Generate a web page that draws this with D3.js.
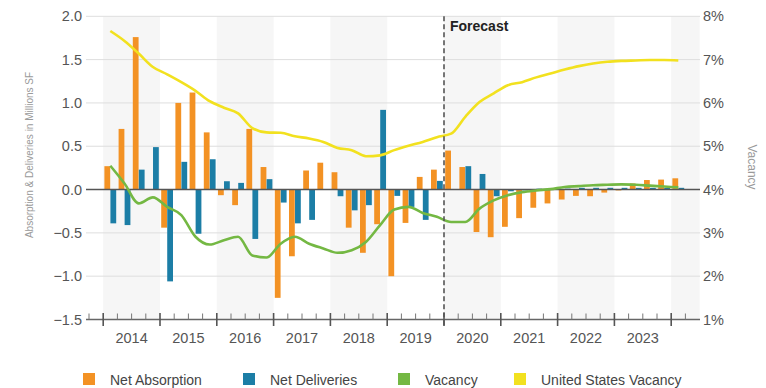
<!DOCTYPE html>
<html>
<head>
<meta charset="utf-8">
<script src="https://cdn.jsdelivr.net/npm/d3@7"></script>
<style>
  html, body { margin: 0; padding: 0; background: #fff; }
  svg { display: block; font-family: "Liberation Sans", Arial, sans-serif; }
</style>
</head>
<body>
<svg id="chart" width="766" height="388"></svg>
<script>
// Quarterly categories for the plotted series
const quarters = [
  "2014 Q1","2014 Q2","2014 Q3","2014 Q4",
  "2015 Q1","2015 Q2","2015 Q3","2015 Q4",
  "2016 Q1","2016 Q2","2016 Q3","2016 Q4",
  "2017 Q1","2017 Q2","2017 Q3","2017 Q4",
  "2018 Q1","2018 Q2","2018 Q3","2018 Q4",
  "2019 Q1","2019 Q2","2019 Q3","2019 Q4",
  "2020 Q1","2020 Q2","2020 Q3","2020 Q4",
  "2021 Q1","2021 Q2","2021 Q3","2021 Q4",
  "2022 Q1","2022 Q2","2022 Q3","2022 Q4",
  "2023 Q1","2023 Q2","2023 Q3","2023 Q4",
  "2024 Q1"
];
// Axis runs one empty quarter before and after the data
const axisQuarters = ["2013 Q4"].concat(quarters, ["2024 Q2"]);
const yearLabels = ["2014","2015","2016","2017","2018","2019","2020","2021","2022","2023"];
const shadedYears = ["2014","2016","2018","2020","2022","2024"];
const forecastStart = "2020 Q1";

// Millions SF
const netAbsorption = [
  0.27, 0.70, 1.76, 0.00, -0.44, 1.00, 1.12, 0.66, -0.065, -0.18, 0.70, 0.26,
  -1.25, -0.77, 0.22, 0.31, 0.20, -0.44, -0.73, -0.40, -1.00, -0.385, 0.146, 0.23,
  0.45, 0.26, -0.49, -0.55, -0.43, -0.33, -0.21, -0.16, -0.115, -0.073, -0.077, -0.035,
  -0.01, 0.07, 0.11, 0.115, 0.13
];
const netDeliveries = [
  -0.39, -0.41, 0.23, 0.49, -1.06, 0.32, -0.51, 0.35, 0.096, 0.077, -0.57, 0.12,
  -0.15, -0.39, -0.35, 0.00, -0.077, -0.24, -0.18, 0.92, -0.073, -0.20, -0.35, 0.10,
  0.00, 0.27, 0.18, -0.077, -0.02, -0.01, 0.01, 0.01, 0.01, 0.02, 0.02, 0.02,
  0.02, 0.02, 0.02, 0.02, 0.02
];
// Percent
const vacancy = [
  4.55, 4.14, 3.68, 3.82, 3.60, 3.41, 2.91, 2.73, 2.83, 2.91, 2.48, 2.43,
  2.75, 2.91, 2.75, 2.64, 2.54, 2.60, 2.79, 3.18, 3.54, 3.60, 3.46, 3.37,
  3.25, 3.25, 3.56, 3.75, 3.87, 3.94, 3.98, 4.01, 4.06, 4.08, 4.10, 4.11,
  4.12, 4.11, 4.09, 4.07, 4.05
];
const usVacancy = [
  7.66, 7.43, 7.14, 6.83, 6.66, 6.48, 6.28, 6.04, 5.89, 5.76, 5.42, 5.32,
  5.31, 5.23, 5.18, 5.10, 4.96, 4.91, 4.77, 4.79, 4.91, 5.01, 5.10, 5.21,
  5.29, 5.68, 6.02, 6.22, 6.41, 6.48, 6.59, 6.68, 6.77, 6.85, 6.91, 6.95,
  6.97, 6.98, 6.99, 6.99, 6.98
];

const leftTicks = [-1.5, -1.0, -0.5, 0.0, 0.5, 1.0, 1.5, 2.0];
const rightTicks = [1, 2, 3, 4, 5, 6, 7, 8];

const colors = {
  absorption: "#f39224",
  deliveries: "#1c7ea6",
  vacancy: "#74b843",
  us: "#f2e11f"
};

const svg = d3.select("#chart");
const plot = { left: 86, right: 700, top: 16.3, bottom: 319.5 };

const x = d3.scaleBand().domain(axisQuarters).range([89, 699.6]).padding(0);
const xInner = d3.scaleBand().domain(["abs", "del"]).range([0, x.bandwidth()]).paddingOuter(0.2).paddingInner(0.04);
const yL = d3.scaleLinear().domain([-1.5, 2.0]).range([plot.bottom, plot.top]);
const yR = d3.scaleLinear().domain([1, 8]).range([plot.bottom, plot.top]);

// Alternate-year shading
const yearStart = yr => x(yr + " Q1");
svg.append("g").selectAll("rect").data(shadedYears).join("rect")
  .attr("x", d => yearStart(d))
  .attr("y", plot.top)
  .attr("width", d => {
    const qs = axisQuarters.filter(q => q.startsWith(d));
    return qs.length * x.step();
  })
  .attr("height", plot.bottom - plot.top)
  .attr("fill", "#f6f6f6");

// Horizontal gridlines
svg.append("g").selectAll("line").data(leftTicks.filter(t => t !== 0 && t !== -1.5)).join("line")
  .attr("x1", plot.left).attr("x2", plot.right)
  .attr("y1", d => yL(d)).attr("y2", d => yL(d))
  .attr("stroke", "#dedede").attr("stroke-width", 1);

// Bars
const barData = quarters.map((q, i) => ({ q, abs: netAbsorption[i], del: netDeliveries[i] }));
const barG = svg.append("g");
barG.selectAll("rect.abs").data(barData).join("rect")
  .attr("class", "abs")
  .attr("x", d => x(d.q) + xInner("abs"))
  .attr("width", xInner.bandwidth())
  .attr("y", d => yL(Math.max(0, d.abs)))
  .attr("height", d => Math.abs(yL(d.abs) - yL(0)))
  .attr("fill", colors.absorption);
barG.selectAll("rect.del").data(barData).join("rect")
  .attr("class", "del")
  .attr("x", d => x(d.q) + xInner("del"))
  .attr("width", xInner.bandwidth())
  .attr("y", d => yL(Math.max(0, d.del)))
  .attr("height", d => Math.abs(yL(d.del) - yL(0)))
  .attr("fill", colors.deliveries);

// Zero line
svg.append("line")
  .attr("x1", plot.left).attr("x2", plot.right)
  .attr("y1", yL(0)).attr("y2", yL(0))
  .attr("stroke", "#555").attr("stroke-width", 1.6);

// Vacancy lines
const cx = q => x(q) + x.bandwidth() / 2;
const line = d3.line().x(d => cx(d.q)).y(d => yR(d.v)).curve(d3.curveMonotoneX);
svg.append("path")
  .datum(quarters.map((q, i) => ({ q, v: usVacancy[i] })))
  .attr("d", line).attr("fill", "none")
  .attr("stroke", colors.us).attr("stroke-width", 2.6).attr("stroke-linejoin", "round");
svg.append("path")
  .datum(quarters.map((q, i) => ({ q, v: vacancy[i] })))
  .attr("d", line).attr("fill", "none")
  .attr("stroke", colors.vacancy).attr("stroke-width", 2.6).attr("stroke-linejoin", "round");

// X axis: quarter ticks, year ticks and year labels
const xAxisG = svg.append("g");
xAxisG.append("line")
  .attr("x1", plot.left).attr("x2", plot.right)
  .attr("y1", plot.bottom).attr("y2", plot.bottom)
  .attr("stroke", "#666").attr("stroke-width", 1.3);
xAxisG.selectAll("line.minor").data(axisQuarters.filter(q => !q.endsWith("Q1"))).join("line")
  .attr("class", "minor")
  .attr("x1", d => x(d)).attr("x2", d => x(d))
  .attr("y1", plot.bottom - 6).attr("y2", plot.bottom)
  .attr("stroke", "#777").attr("stroke-width", 1);
xAxisG.selectAll("line.major").data(axisQuarters.filter(q => q.endsWith("Q1"))).join("line")
  .attr("class", "major")
  .attr("x1", d => x(d)).attr("x2", d => x(d))
  .attr("y1", plot.bottom - 6.5).attr("y2", plot.bottom + 6.5)
  .attr("stroke", "#555").attr("stroke-width", 1.6);
xAxisG.selectAll("text").data(yearLabels).join("text")
  .attr("x", d => yearStart(d) + 2 * x.step())
  .attr("y", 343)
  .attr("text-anchor", "middle")
  .attr("font-size", 14.5)
  .attr("fill", "#555")
  .text(d => d);

// Left axis labels
svg.append("g").selectAll("text").data(leftTicks).join("text")
  .attr("x", 82).attr("y", d => yL(d) + 5)
  .attr("text-anchor", "end").attr("font-size", 14.5).attr("fill", "#555")
  .text(d => d3.format(".1f")(d));

// Right axis labels
svg.append("g").selectAll("text").data(rightTicks).join("text")
  .attr("x", 703).attr("y", d => yR(d) + 5)
  .attr("text-anchor", "start").attr("font-size", 14.5).attr("fill", "#555")
  .text(d => d + "%");

// Axis titles
svg.append("text")
  .attr("transform", "translate(33,155) rotate(-90)")
  .attr("text-anchor", "middle").attr("font-size", 10).attr("fill", "#9a9a9a")
  .text("Absorption & Deliveries in Millions SF");
svg.append("text")
  .attr("transform", "translate(748,167) rotate(90)")
  .attr("text-anchor", "middle").attr("font-size", 12).attr("fill", "#9a9a9a")
  .text("Vacancy");

// Forecast divider
const fx = x(forecastStart);
svg.append("line")
  .attr("x1", fx).attr("x2", fx)
  .attr("y1", plot.top).attr("y2", plot.bottom + 6)
  .attr("stroke", "#555").attr("stroke-width", 1.6).attr("stroke-dasharray", "5,3");
svg.append("text")
  .attr("x", fx + 6).attr("y", 31)
  .attr("font-size", 14).attr("font-weight", "bold").attr("fill", "#222")
  .text("Forecast");

// Legend
const legendItems = [
  { label: "Net Absorption", color: colors.absorption, tx: 110 },
  { label: "Net Deliveries", color: colors.deliveries, tx: 270 },
  { label: "Vacancy", color: colors.vacancy, tx: 425 },
  { label: "United States Vacancy", color: colors.us, tx: 541 }
];
const lg = svg.append("g").selectAll("g").data(legendItems).join("g");
lg.append("rect")
  .attr("x", d => d.tx - 27).attr("y", 373).attr("width", 12).attr("height", 12)
  .attr("fill", d => d.color);
lg.append("text")
  .attr("x", d => d.tx).attr("y", 384.5)
  .attr("font-size", 14).attr("fill", "#444")
  .text(d => d.label);
</script>
</body>
</html>
